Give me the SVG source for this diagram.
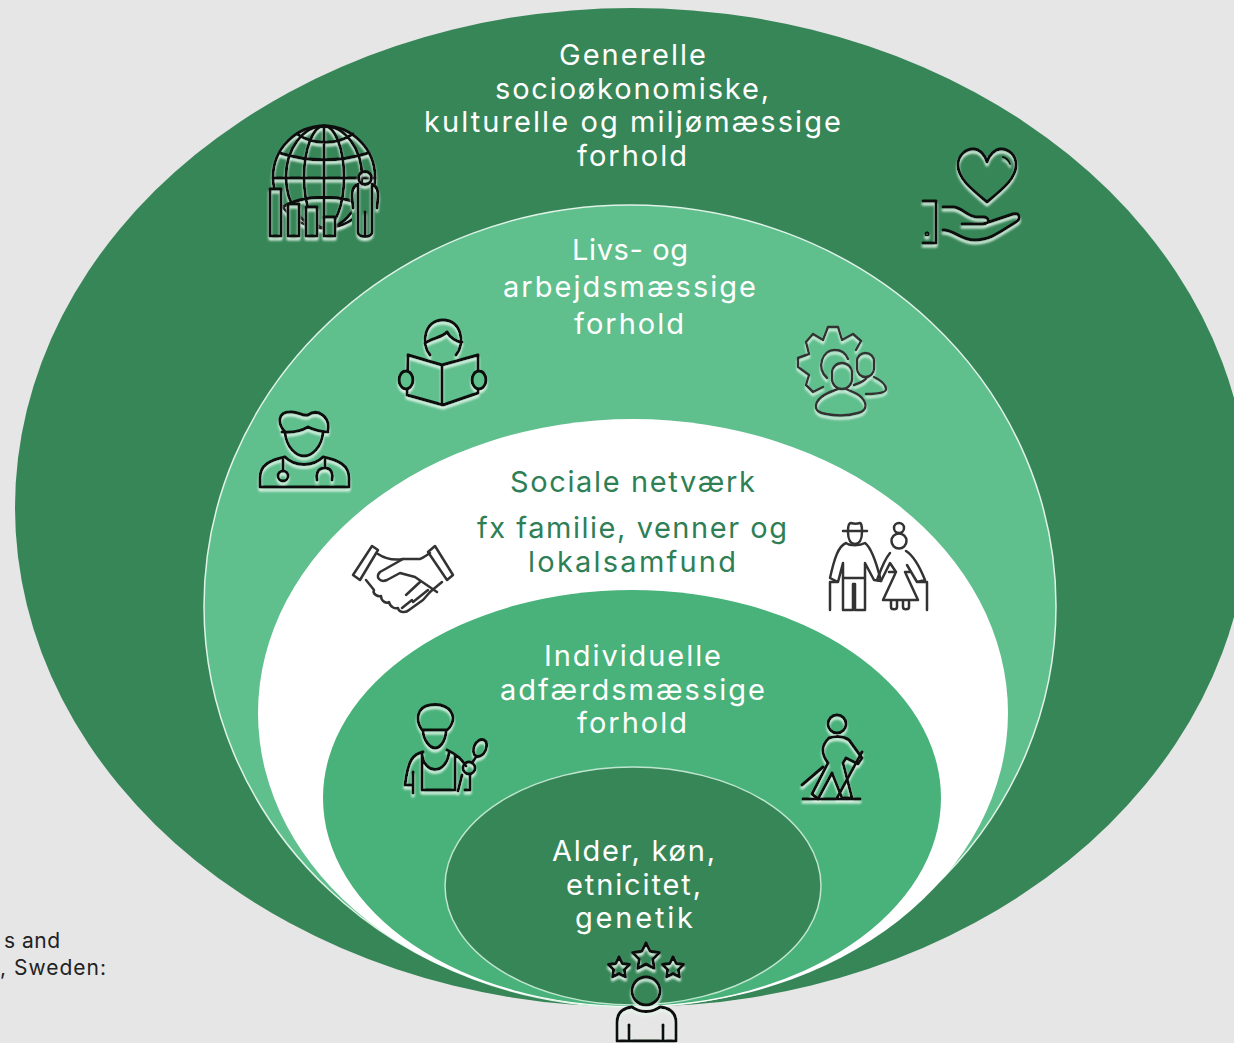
<svg xmlns="http://www.w3.org/2000/svg" width="1234" height="1043" viewBox="0 0 1234 1043">
<style>
.t{font-family:"Inter","Open Sans","Liberation Sans",sans-serif;font-size:29px;font-weight:400;fill:#fff;text-anchor:start}
.d{fill:#2f7f56}
.n{font-family:"Inter","Open Sans","Liberation Sans",sans-serif;font-size:21px;fill:#222;text-anchor:start}
.i{fill:none;stroke:#0b0f0c;stroke-width:3;stroke-linecap:round;stroke-linejoin:round}
.g{fill:none;stroke:#333;stroke-width:2.5;stroke-linecap:round;stroke-linejoin:round}
</style>
<defs>
<filter id="glow" x="-15%" y="-15%" width="130%" height="130%">
<feOffset in="SourceAlpha" dy="3" result="o"/>
<feGaussianBlur in="o" stdDeviation="1.1" result="b"/>
<feFlood flood-color="#e4f5ea" flood-opacity="0.95"/>
<feComposite in2="b" operator="in" result="c"/>
<feMerge><feMergeNode in="c"/><feMergeNode in="SourceGraphic"/></feMerge>
</filter>
<polygon id="star" points="0,-10 3,-4.1 9.51,-3.09 4.85,1.58 5.88,8.09 0,5.1 -5.88,8.09 -4.85,1.58 -9.51,-3.09 -3,-4.1" vector-effect="non-scaling-stroke"/>
</defs>
<rect width="1234" height="1043" fill="#e6e6e6"/>

<g id="footnote">
<text class="n" x="4" y="948" textLength="56">s and</text>
<text class="n" x="0" y="975" textLength="106">, Sweden:</text>
</g>

<g id="ring-generelle">
<ellipse cx="632" cy="507.5" rx="617" ry="499.5" fill="#378658"/>
<text class="t" x="559" y="65" textLength="147">Generelle</text>
<text class="t" x="495" y="99" textLength="274">socioøkonomiske,</text>
<text class="t" x="424" y="132" textLength="417">kulturelle og miljømæssige</text>
<text class="t" x="577" y="166" textLength="110">forhold</text>
</g>

<g id="ring-livs">
<ellipse cx="630" cy="606" rx="426" ry="401" fill="#5fbf8d" stroke="#dff3e7" stroke-width="1.5"/>
<text class="t" x="572" y="260" textLength="116">Livs- og</text>
<text class="t" x="503" y="297" textLength="253">arbejdsmæssige</text>
<text class="t" x="574" y="334" textLength="110">forhold</text>
</g>

<g id="ring-sociale">
<ellipse cx="633" cy="713" rx="375" ry="294" fill="#fff"/>
<text class="t d" x="510" y="492" textLength="245">Sociale netværk</text>
<text class="t d" x="477" y="538" textLength="310">fx familie, venner og</text>
<text class="t d" x="528" y="572" textLength="208">lokalsamfund</text>
</g>

<g id="ring-individuelle">
<ellipse cx="632" cy="798" rx="309" ry="208" fill="#48b27a"/>
<text class="t" x="544" y="666" textLength="177">Individuelle</text>
<text class="t" x="500" y="700" textLength="265">adfærdsmæssige</text>
<text class="t" x="577" y="733" textLength="110">forhold</text>
</g>

<g id="ring-alder">
<ellipse cx="633" cy="886" rx="188" ry="119" fill="#378658" stroke="#bfe6cf" stroke-width="1.5"/>
<text class="t" x="552" y="861" textLength="163">Alder, køn,</text>
<text class="t" x="566" y="895" textLength="135">etnicitet,</text>
<text class="t" x="575" y="928" textLength="118">genetik</text>
</g>

<g id="icon-globe" class="i" filter="url(#glow)">
<circle cx="324" cy="177" r="51"/>
<ellipse cx="324" cy="177" rx="20" ry="51"/>
<ellipse cx="324" cy="177" rx="38" ry="51"/>
<path d="M324 126V228M273 178H375M297 134C313 145 337 145 353 134M280 153C307 162 341 162 368 153M283 207C303 194 345 194 365 207"/>
</g>
<g id="icon-globe-front">
<g fill="#378658">
<rect x="270" y="189" width="11" height="47"/><rect x="288" y="204" width="11" height="32"/><rect x="306" y="207" width="11" height="29"/><rect x="324" y="217" width="11" height="19"/>
<path d="M352 236V212L353 197C353 190 358 187 365 186C372 187 377 190 377 197L376 212V236Z"/>
</g>
<g class="i" filter="url(#glow)">
<rect x="270" y="189" width="11" height="47"/><rect x="288" y="204" width="11" height="32"/><rect x="306" y="207" width="11" height="29"/><rect x="324" y="217" width="11" height="19"/>
<circle cx="365" cy="178" r="6.5"/>
<path d="M358 184C352 187 352 192 352 197L353 208M372 184C378 187 378 192 378 197L377 208M358 184V212M372 184V212M358 212V232C358 238 372 238 372 232V212M365 212V234"/>
</g>
</g>

<g id="icon-heart-hand" class="i" filter="url(#glow)">
<path d="M987 202C970 188 958 178 958 165C958 155 966 149 973 149C980 149 985 155 987 162C989 155 995 149 1001 149C1009 149 1016 155 1016 165C1016 178 1004 188 987 202Z"/>
<path d="M1003 157C1006 158 1009 161 1010 164" stroke-width="2"/>
<path d="M923 201H936V243H923"/>
<circle cx="927" cy="234" r="1" />
<path d="M943 207H953C962 207 967 217 977 217H983C990 217 990 224 983 224H962M983 224L1013 214C1020 212 1021 219 1016 222C1000 232 990 240 975 240C960 240 955 230 943 230"/>
</g>

<g id="icon-reader" class="i" filter="url(#glow)">
<path d="M430 355C420 343 425 320 443 320C461 320 466 343 456 355"/>
<path d="M425 343C433 338 443 337 447 332C450 338 457 342 462 342"/>
<path d="M408 355L442 365L478 355V393L443 405L407 395ZM442 365V405"/>
<ellipse cx="406" cy="380" rx="7" ry="9" fill="#5fbf8d"/>
<ellipse cx="479" cy="380" rx="7" ry="9" fill="#5fbf8d"/>
</g>

<g id="icon-team" class="g" filter="url(#glow)">
<path d="M823 387L813 392L806 385L809 375L798 367V358L809 354L806 342L813 334L823 340L828 327H838L842 340L853 334L861 341L856 350"/>
<path d="M827 378C816 368 822 350 835 350C842 350 846 354 848 359"/>
<rect x="832" y="363" width="20" height="26" rx="10"/>
<path d="M838 389C830 392 818 396 816 405C815 411 820 413 826 414C836 416 848 416 858 413C866 411 868 405 862 398C858 393 850 391 846 389"/>
<rect x="857" y="353" width="17" height="24" rx="8.5"/>
<path d="M854 385C860 383 866 380 867 377M874 377C880 380 886 384 886 389C886 393 878 394 866 394"/>
</g>

<g id="icon-doctor" class="i" filter="url(#glow)">
<path d="M285 432C277 423 278 412 290 412C298 411 303 417 308 415C318 408 330 417 328 430"/>
<path d="M285 432C286 447 296 456 304 456C312 456 322 447 323 432"/>
<path d="M282 432C293 433 303 430 308 427C313 430 323 432 328 432"/>
<path d="M260 487H349V478C349 465 338 460 323 457C313 467 295 467 285 457C270 460 260 465 260 478Z"/>
<path d="M283 460V471M325 460V468C317 468 316 475 317 480M332 480C333 475 332 468 325 468"/>
<circle cx="283" cy="476" r="5"/>
</g>

<g id="icon-handshake" class="g">
<path d="M372 546L378 550L360 580L353 575ZM435 546L453 575L447 580L428 552Z"/>
<path d="M378 554C387 560 397 560 403 559H420C423 558 427 555 430 553"/>
<path d="M403 559L380 572C375 577 380 583 387 580L400 573L415 577L437 592M442 582L430 592"/>
<path d="M366 580L374 590C372 594 378 597 381 596C381 601 386 604 389 602C390 607 395 609 398 608C399 613 406 613 409 610L423 600L430 592"/>
<path d="M406 595L420 582M413 602L428 590M402 608L412 600"/>
</g>

<g id="icon-elderly" class="g">
<path d="M843 531H867M848 531C848 526 849 523 851 523C854 524 857 524 860 523C861 523 862 526 862 531"/>
<path d="M848 532C848 540 851 544 855 544C859 544 862 540 862 532"/>
<path d="M846 543C838 546 834 560 830 578L838 582L843 563V610H853V584H855V610H865V563L874 580L881 581C877 565 872 548 865 543C860 546 850 546 846 543ZM838 582H830V610M843 578H865"/>
<circle cx="899" cy="541" r="7.5"/><circle cx="899" cy="528" r="5"/>
<path d="M890 553C884 560 880 572 877 580L881 581L890 563L896 572L883 600H918L905 572M889 572H896M905 572H910M906 551C914 556 921 570 925 580L917 582L907 565M917 582H927V610"/>
<path d="M891 601V607C891 610 897 610 897 607V601M903 601V607C903 610 909 610 909 607V601"/>
</g>

<g id="icon-gardener" class="i" filter="url(#glow)">
<path d="M422 730C415 720 417 707 430 705C440 703 452 707 453 718C453 723 450 728 447 730Z"/>
<path d="M423 730C423 740 430 748 435 748C440 748 445 742 446 732"/>
<path d="M423 752C413 754 408 760 405 785H413M422 752V790H455V755M422 753C423 775 447 775 449 752M447 750C458 755 462 760 466 766M413 772V793M462 775L458 791M470 775V790H465"/>
<ellipse cx="469" cy="768" rx="6" ry="6"/>
<ellipse cx="480" cy="748" rx="6" ry="9" transform="rotate(25 480 748)"/>
<path d="M476 757L472 763"/>
</g>

<g id="icon-walker" class="i" filter="url(#glow)">
<circle cx="837" cy="724" r="9"/>
<path d="M829 738C822 745 820 752 828 763L812 794L818 799L832 773L842 798H852L843 763L846 758L858 764L862 758L849 740C843 736 835 736 829 738Z"/>
<path d="M803 799H860M802 785L823 767M862 752L837 798"/>
</g>

<g id="icon-person-stars" class="i" filter="url(#glow)">
<use href="#star" transform="translate(646 957) scale(1.4)"/>
<use href="#star" transform="translate(619 968) scale(1.1)"/>
<use href="#star" transform="translate(673 968) scale(1.1)"/>
<circle cx="646" cy="991" r="14"/>
<path d="M617 1041V1023C617 1013 623 1008 632 1007C640 1013 652 1013 660 1007C670 1008 676 1013 676 1023V1041ZM629 1025V1041M663 1025V1041"/>
</g>
</svg>
